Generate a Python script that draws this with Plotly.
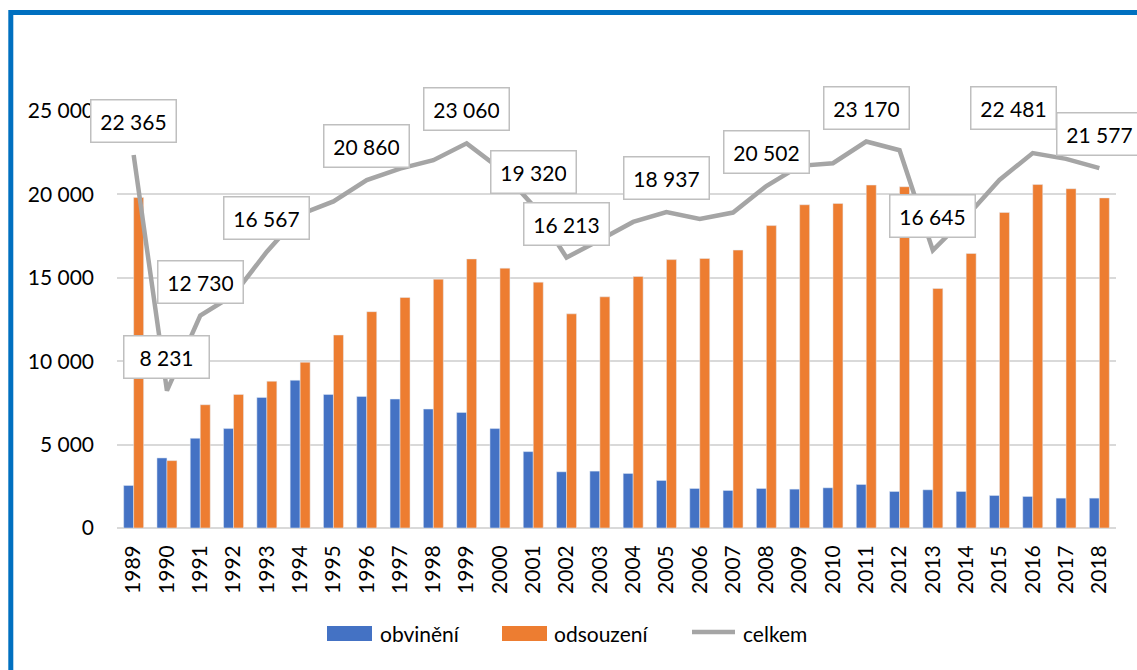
import plotly.graph_objects as go

years = [str(y) for y in range(1989, 2019)]

obvineni = [2550, 4200, 5380, 5960, 7830, 8860, 8010, 7890, 7730, 7130,
            6930, 5960, 4580, 3370, 3410, 3270, 2850, 2370, 2250, 2370,
            2330, 2410, 2610, 2190, 2290, 2190, 1950, 1890, 1790, 1790]

odsouzeni = [19810, 4040, 7390, 8010, 8800, 9940, 11570, 12970, 13820, 14920,
             16130, 15580, 14740, 12840, 13860, 15080, 16090, 16160, 16660, 18130,
             19380, 19460, 20560, 20460, 14360, 16460, 18920, 20590, 20340, 19790]

celkem = [22365, 8231, 12730, 13970, 16567, 18800, 19580, 20860, 21550, 22050,
          23060, 21540, 19320, 16213, 17270, 18350, 18937, 18530, 18910, 20502,
          21710, 21870, 23170, 22650, 16645, 18650, 20870, 22481, 22130, 21577]

labelled_years = ["1989", "1990", "1991", "1993", "1996", "1999", "2001", "2002",
                  "2005", "2008", "2011", "2013", "2016", "2018"]

BLUE = "#4472C4"
ORANGE = "#ED7D31"
GREY = "#A5A5A5"
FONT = "Lato"
FS = 21

W, H = 1137, 670
# plot area in page pixels
L, R, T, B = 117, 1116, 111, 528


def px(x):
    return (x - L) / (R - L)


def py(y):
    return (B - y) / (B - T)


fig = go.Figure()
fig.add_trace(go.Bar(name="obvinění", x=years, y=obvineni, marker_color=BLUE))
fig.add_trace(go.Bar(name="odsouzení", x=years, y=odsouzeni, marker_color=ORANGE))
fig.add_trace(go.Scatter(name="celkem", x=years, y=celkem, mode="lines",
                         line=dict(color=GREY, width=4.5)))

# data labels on the "celkem" line (x given as category index, since the
# year strings look numeric to plotly)
offsets = {"2016": (-19, -45)}
for yr in labelled_years:
    i = years.index(yr)
    v = celkem[i]
    ax, ay = offsets.get(yr, (0, -34))
    fig.add_annotation(x=i, y=v, text=f"{v:,}".replace(",", " "),
                       showarrow=True, ax=ax, ay=ay, arrowcolor="rgba(0,0,0,0)",
                       bgcolor="white", bordercolor="#BFBFBF", borderwidth=1.5,
                       borderpad=9, width=66, height=23,
                       font=dict(family=FONT, size=FS, color="black"))

# legend drawn by hand so the swatches are wide rectangles
shapes = [
    dict(type="rect", xref="paper", yref="paper", x0=px(327), x1=px(372),
         y0=py(641), y1=py(626), fillcolor=BLUE, line_width=0),
    dict(type="rect", xref="paper", yref="paper", x0=px(502), x1=px(547),
         y0=py(641), y1=py(626), fillcolor=ORANGE, line_width=0),
    dict(type="line", xref="paper", yref="paper", x0=px(692), x1=px(735),
         y0=py(632), y1=py(632), line=dict(color=GREY, width=4.5)),
    # blue frame round the chart
    dict(type="rect", xref="paper", yref="paper", x0=px(10.8), x1=px(1200),
         y0=py(720), y1=py(12.5), line=dict(color="#0070C0", width=5),
         layer="above"),
]
for x0, txt in [(378, "obvinění"), (552, "odsouzení"), (741, "celkem")]:
    fig.add_annotation(xref="paper", yref="paper", x=px(x0), y=py(633),
                       xanchor="left", yanchor="middle", text=txt, showarrow=False,
                       font=dict(family=FONT, size=FS, color="black"))

fig.update_layout(
    width=W, height=H,
    margin=dict(l=L, r=W - R, t=T, b=H - B, autoexpand=False),
    paper_bgcolor="white", plot_bgcolor="white",
    barmode="group", bargap=0.4, bargroupgap=0,
    showlegend=False,
    separators=", ",
    font=dict(family=FONT, size=FS, color="black"),
    shapes=shapes,
    xaxis=dict(type="category", range=[-0.5, len(years) - 0.5], tickangle=-90,
               showgrid=False, ticks="", ticklabelstandoff=12, showline=False),
    yaxis=dict(range=[0, 25000], dtick=5000, tickformat=",d", showgrid=True,
               gridcolor="#D9D9D9", gridwidth=1.5, zeroline=True,
               zerolinecolor="#D9D9D9", zerolinewidth=1.5, ticks="",
               ticklabelstandoff=22),
)

# drop the default body margin so the figure fills the window exactly
fig.write_html("out.html", config={"displayModeBar": False},
               post_script="document.body.style.margin='0';"
                           "document.body.style.overflow='hidden';")
